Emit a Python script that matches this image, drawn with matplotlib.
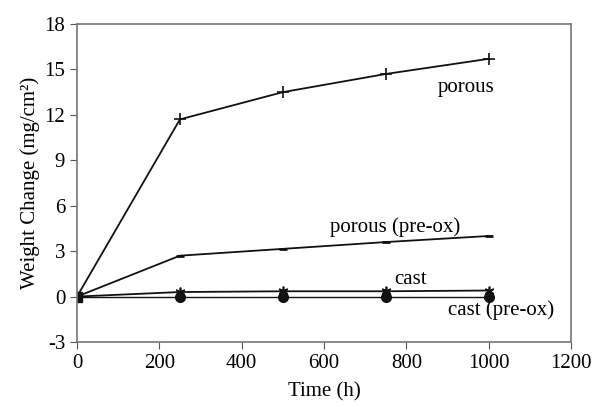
import matplotlib.pyplot as plt

plt.rcParams['font.family'] = 'Liberation Serif'
plt.rcParams['axes.unicode_minus'] = False

time_h = [0, 250, 500, 750, 1000]
porous = [0, 11.7, 13.5, 14.7, 15.7]
porous_preox = [0, 2.7, 3.15, 3.6, 4.0]
cast = [0, 0.3, 0.35, 0.35, 0.4]
cast_preox = [0, 0, 0, 0, 0]

fig = plt.figure(figsize=(5.94, 4.07), dpi=100)
ax = fig.add_axes([77 / 594, 65 / 407, 494 / 594, 318 / 407])

ax.plot(time_h, porous, color='#111111', lw=1.3, marker='+', ms=9, mew=1.2)
ax.plot(time_h, porous_preox, color='#111111', lw=1.3, marker='_', ms=6, mew=2)
ax.plot(time_h, cast, color='#111111', lw=1.3, marker=(6, 2, 0), ms=7, mew=1.2)
ax.plot(time_h, cast_preox, color='#111111', lw=1.0, marker='o', ms=7)
ax.plot(0, 0, color='#111111', marker='s', ms=7, ls='none')

fs = 15
ax.text(1013, 13.8, 'porous', ha='right', va='center', fontsize=fs)
ax.text(930, 4.6, 'porous (pre-ox)', ha='right', va='center', fontsize=fs)
ax.text(811, 1.15, 'cast', ha='center', va='center', fontsize=fs)
ax.text(1030, -0.9, 'cast (pre-ox)', ha='center', va='center', fontsize=fs)

ax.set_xlim(0, 1200)
ax.set_ylim(-3, 18)
ax.set_xticks(range(0, 1201, 200))
ax.set_yticks(range(-3, 19, 3))
ax.tick_params(labelsize=fs, direction='out', length=5, color='#555555')
for s in ax.spines.values():
    s.set_color('#777777')
    s.set_linewidth(1.2)

ax.set_xlabel('Time (h)', fontsize=fs, labelpad=7)
ax.set_ylabel('Weight Change (mg/cm²)', fontsize=fs, labelpad=3)

fig.savefig('out.png', dpi=100)
